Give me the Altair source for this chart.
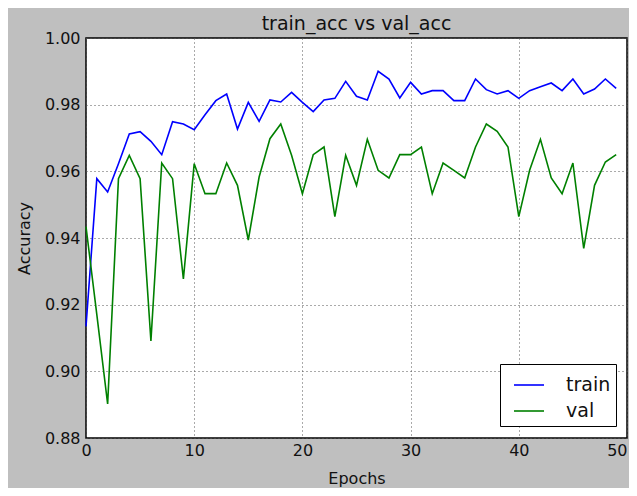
import altair as alt
import pandas as pd

epochs = list(range(50))
train_acc = [0.9135, 0.9578, 0.9538, 0.9623, 0.9712, 0.9719, 0.9690, 0.9650, 0.9749, 0.9742,
             0.9725, 0.9770, 0.9812, 0.9832, 0.9727, 0.9807, 0.9750, 0.9814, 0.9808, 0.9837,
             0.9807, 0.9779, 0.9814, 0.9819, 0.9870, 0.9825, 0.9814, 0.9900, 0.9877, 0.9820,
             0.9867, 0.9832, 0.9842, 0.9842, 0.9812, 0.9812, 0.9877, 0.9845, 0.9832, 0.9842,
             0.9819, 0.9842, 0.9854, 0.9865, 0.9842, 0.9877, 0.9832, 0.9847, 0.9877, 0.9849]
val_acc = [0.9434, 0.9170, 0.8902, 0.9578, 0.9648, 0.9578, 0.9091, 0.9625, 0.9578, 0.9277,
           0.9623, 0.9533, 0.9533, 0.9625, 0.9558, 0.9394, 0.9583, 0.9698, 0.9742, 0.9648,
           0.9533, 0.9650, 0.9673, 0.9464, 0.9648, 0.9558, 0.9696, 0.9603, 0.9580, 0.9650,
           0.9650, 0.9673, 0.9533, 0.9625, 0.9603, 0.9580, 0.9673, 0.9742, 0.9720, 0.9673,
           0.9464, 0.9603, 0.9696, 0.9580, 0.9533, 0.9625, 0.9369, 0.9558, 0.9628, 0.9650]
series_names = ["train", "val"]
series_colors = ["#0000ff", "#008000"]
x_ticks = [0, 10, 20, 30, 40, 50]
y_ticks = [0.88, 0.90, 0.92, 0.94, 0.96, 0.98, 1.00]

df = pd.concat([
    pd.DataFrame({"epoch": epochs, "acc": train_acc, "series": series_names[0]}),
    pd.DataFrame({"epoch": epochs, "acc": val_acc, "series": series_names[1]}),
])

FONT = "DejaVu Sans"

chart = alt.Chart(df).mark_line(strokeWidth=1.6).encode(
    x=alt.X("epoch:Q",
            scale=alt.Scale(domain=[0, 50], nice=False, zero=False),
            axis=alt.Axis(title="Epochs", values=x_ticks, format="d",
                          labelAlign=alt.expr("datum.value >= 50 ? 'right' : 'center'"),
                          titleY=45, titleBaseline="alphabetic")),
    y=alt.Y("acc:Q",
            scale=alt.Scale(domain=[0.88, 1.00], nice=False, zero=False),
            axis=alt.Axis(title="Accuracy", values=y_ticks, format=".2f",
                          titleX=-57, titleY=200, titleAngle=-90,
                          titleAlign="center", titleBaseline="alphabetic")),
    color=alt.Color("series:N",
                    scale=alt.Scale(domain=series_names, range=series_colors),
                    legend=alt.Legend(title=None, orient="none", legendX=414, legendY=326,
                                      symbolType="stroke", symbolSize=900,
                                      symbolStrokeWidth=1.6, symbolOffset=8,
                                      labelFontSize=19, labelFont=FONT, labelColor="#111111",
                                      labelOffset=21, rowPadding=0, padding=5,
                                      strokeColor="#000000", fillColor="#ffffff",
                                      cornerRadius=0)),
).properties(
    width=541,
    height=400,
    title=alt.TitleParams("train_acc vs val_acc", fontSize=19, font=FONT, fontWeight="normal",
                          color="#111111", anchor="middle", baseline="alphabetic",
                          offset=7, dy=26),
    background="#bfbfbf",
    padding={"left": 78, "top": 30, "right": 2, "bottom": 50},
    autosize=alt.AutoSizeParams(type="none"),
).configure_view(
    fill="#ffffff", stroke="#000000", strokeWidth=1.5,
).configure_axis(
    domain=False, ticks=False, tickSize=0,
    grid=True, gridColor="#555555", gridDash=[1, 3], gridWidth=1,
    labelFont=FONT, labelFontSize=16, labelColor="#111111", labelPadding=6,
    titleFont=FONT, titleFontSize=16, titleColor="#111111", titleFontWeight="normal",
    labelFlush=False, labelOverlap=False,
).configure_axisX(labelPadding=4)

chart.save("out.html", embed_options={"renderer": "svg", "actions": False})
